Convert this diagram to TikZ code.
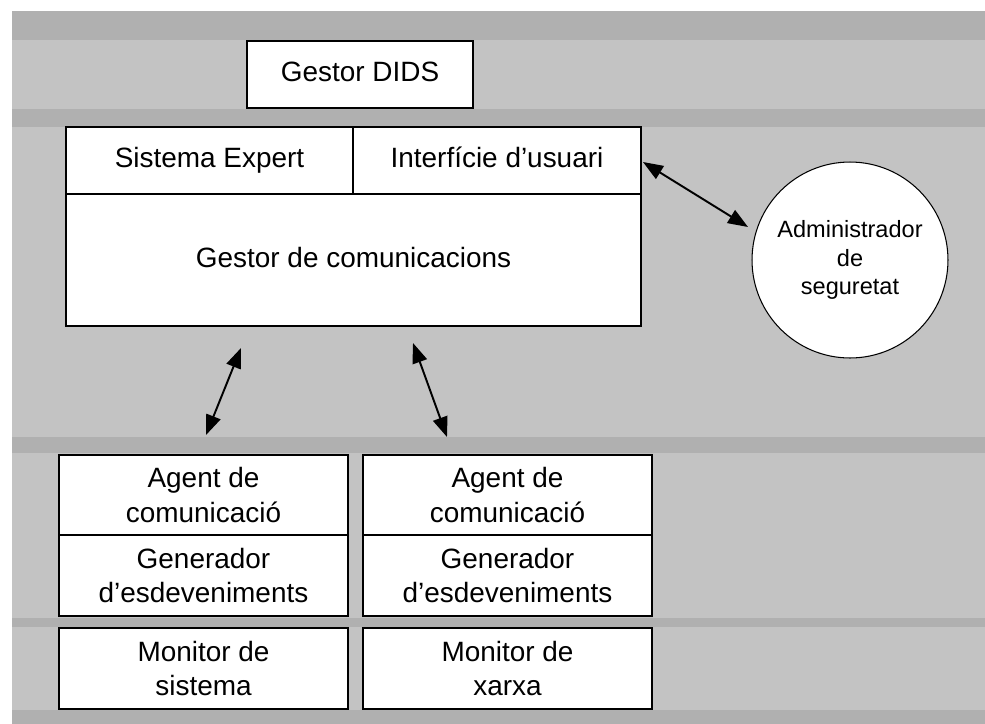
\documentclass[tikz,border=0pt]{standalone}
\usepackage{fontspec}
\setmainfont{Liberation Sans}
\usetikzlibrary{arrows.meta}
\tikzset{
    boxpart/.style={draw=black,line width=1.1pt,fill=white,rectangle,inner sep=0pt,align=center,
        font=\fontsize{15.9pt}{19.9pt}\selectfont},
    oneline/.style={text height=11.5pt,text depth=3.5pt},
    dblarrow/.style={line width=1.1pt,{Triangle[length=0.4cm,width=0.3cm]}-{Triangle[length=0.4cm,width=0.3cm]}},
}

\begin{document}
\begin{tikzpicture}[x=0.02cm,y=-0.02cm]
            \useasboundingbox (0,0) rectangle (985,724);
            % background
            \fill[gray!47] (12,11) rectangle (985,724);
            \fill[gray!62] (12,11) rectangle (985,40);
            \fill[gray!62] (12,109) rectangle (985,127);
            \fill[gray!62] (12,437) rectangle (985,453);
            \fill[gray!62] (12,618) rectangle (985,627);
            \fill[gray!62] (12,710) rectangle (985,724);
            % DIDS manager
            \node[boxpart,oneline,minimum width=4.52cm,minimum height=1.34cm] (dids) at (360,74.5) {Gestor DIDS};
            \node[boxpart,oneline,minimum width=5.74cm,minimum height=1.34cm] (expert) at (209.5,160.5) {Sistema Expert};
            \node[boxpart,oneline,minimum width=5.76cm,minimum height=1.34cm] (iface) at (497,160.5) {Interfície d’usuari};
            \node[boxpart,oneline,minimum width=11.5cm,minimum height=2.64cm] (comms) at (353.5,260) {Gestor de comunicacions};
            \node[draw=black,line width=0.6pt,fill=white,circle,minimum size=3.92cm,inner sep=0pt,align=center,
                font=\fontsize{13.4pt}{16.3pt}\selectfont] (admin) at (850,260) {Administrador\\de\\seguretat};
            % agents
            \node[boxpart,minimum width=5.78cm,minimum height=1.6cm] (agentA) at (203.5,495) {Agent de\\comunicació};
            \node[boxpart,minimum width=5.78cm,minimum height=1.62cm] (genA) at (203.5,575.5) {Generador\\d’esdeveniments};
            \node[boxpart,minimum width=5.78cm,minimum height=1.62cm] (monA) at (203.5,668.5) {Monitor de\\sistema};
            \node[boxpart,minimum width=5.78cm,minimum height=1.6cm] (agentB) at (507.5,495) {Agent de\\comunicació};
            \node[boxpart,minimum width=5.78cm,minimum height=1.62cm] (genB) at (507.5,575.5) {Generador\\d’esdeveniments};
            \node[boxpart,minimum width=5.78cm,minimum height=1.62cm] (monB) at (507.5,668.5) {Monitor de\\xarxa};
            % arrows
            \coordinate (ifaceEnd) at (643,162);
            \coordinate (adminEnd) at (748,227);
            \coordinate (commsA) at (241,348);
            \coordinate (agentAtop) at (206,435);
            \coordinate (commsB) at (413,343);
            \coordinate (agentBtop) at (447,437);
            \draw[dblarrow] (ifaceEnd) -- (adminEnd);
            \draw[dblarrow] (commsA) -- (agentAtop);
            \draw[dblarrow] (commsB) -- (agentBtop);
        \end{tikzpicture}
\end{document}
